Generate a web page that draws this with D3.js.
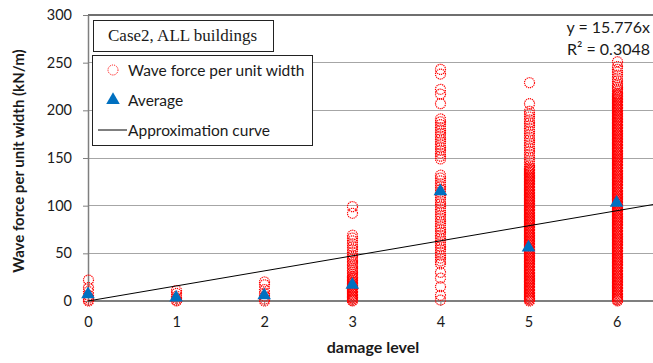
<!DOCTYPE html>
<html>
<head>
<meta charset="utf-8">
<script src="https://cdn.jsdelivr.net/npm/d3@7/dist/d3.min.js"></script>
<style>
  html, body { margin: 0; padding: 0; background: #fff; }
  svg { display: block; }
  text { font-family: Lato, "Open Sans", sans-serif; fill: #1a1a1a; }
</style>
</head>
<body>
<svg id="chart" width="653" height="363"></svg>
<script>
// Damage levels on the x axis
const damageLevels = [0, 1, 2, 3, 4, 5, 6];
const xTicks = [0, 1, 2, 3, 4, 5, 6];
const yTicks = [0, 50, 100, 150, 200, 250, 300];

// Wave force per unit width (kN/m) for each building, grouped by damage level
const forceLevel0 = [22, 14, 10, 6, 3, 1, 0];
const forceLevel1 = [11, 8, 5, 3, 1, 0];
const forceLevel2 = [20, 17, 12, 8, 5, 2, 0];
const forceLevel3 = [99, 92, 69, 66, 63, 60, 57, 54, 51, 48, 46, 44, 42, 40, 38, 36, 34, 32,
  30, 28, 26, 25, 24, 23, 22, 21, 20, 19, 18, 17, 16, 15, 14, 13, 12, 11, 10, 9, 8, 7, 6, 5,
  4, 3, 2, 1, 0];
const forceLevel4 = [243, 238, 222, 217, 207, 191, 188, 185, 182, 179, 176, 173, 170, 167, 164,
  161, 158, 155, 152, 149, 132, 129, 126, 123, 120, 117, 114, 111, 108, 105, 102, 99, 96, 93,
  90, 87, 84, 81, 78, 75, 72, 69, 66, 63, 60, 57, 54, 51, 48, 45, 42, 39, 30, 24, 15, 6, 1];
const forceLevel5 = [229, 207, 199, 196, 193, 190, 187, 184, 181, 178, 175, 172, 169, 166, 163,
  160, 157, 154, 151, 148, 145, 142,
  140, 139, 138, 137, 136, 135, 134, 133, 132, 131, 130, 129, 128, 127, 126, 125, 124, 123,
  122, 121, 120, 119, 118, 117, 116, 115, 114, 113, 112, 111, 110, 109, 108, 107, 106, 105,
  104, 103, 102, 101, 100, 99, 98, 97, 96, 95, 94, 93, 92, 91, 90, 89, 88, 87, 86, 85, 84, 83,
  82, 81, 80, 79, 78, 77, 76, 75, 74, 73, 72, 71, 70, 69, 68, 67, 66, 65, 64, 63, 62, 61, 60,
  59, 58, 57, 56, 55, 54, 53, 52, 51, 50, 49, 48, 47, 46, 45, 44, 43, 42, 41, 40, 39, 38, 37,
  36, 35, 34, 33, 32, 31, 30, 29, 28, 27, 26, 25, 24, 23, 22, 21, 20, 19, 18, 17, 16, 15, 14,
  13, 12, 11, 10, 9, 8, 7, 6, 5, 4, 3, 2, 1, 0];
const forceLevel6 = [251, 246, 243, 240, 237, 234, 231, 228, 226, 224, 222, 220,
  218, 217, 216, 215, 214, 213, 212, 211, 210, 209, 208, 207, 206, 205, 204, 203, 202, 201,
  200, 199, 198, 197, 196, 195, 194, 193, 192, 191, 190, 189, 188, 187, 186, 185, 184, 183,
  182, 181, 180, 179, 178, 177, 176, 175, 174, 173, 172, 171, 170, 169, 168, 167, 166, 165,
  164, 163, 162, 161, 160, 159, 158, 157, 156, 155, 154, 153, 152, 151, 150, 149, 148, 147,
  146, 145, 144, 143, 142, 141, 140, 139, 138, 137, 136, 135, 134, 133, 132, 131, 130, 129,
  128, 127, 126, 125, 124, 123, 122, 121, 120, 119, 118, 117, 116, 115, 114, 113, 112, 111,
  110, 109, 108, 107, 106, 105, 104, 103, 102, 101, 100, 99, 98, 97, 96, 95, 94, 93, 92, 91,
  90, 89, 88, 87, 86, 85, 84, 83, 82, 81, 80, 79, 78, 77, 76, 75, 74, 73, 72, 71, 70, 69, 68,
  67, 66, 65, 64, 63, 62, 61, 60, 59, 58, 57, 56, 55, 54, 53, 52, 51, 50, 49, 48, 47, 46, 45,
  44, 43, 42, 41, 40, 39, 38, 37, 36, 35, 34, 33, 32, 31, 30, 29, 28, 27, 26, 25, 24, 23, 22,
  21, 20, 19, 18, 17, 16, 15, 14, 13, 12, 11, 10, 9, 8, 7, 6, 5, 4, 3, 2, 1, 0];

// Average wave force per damage level
const averageForce = [7, 3.5, 6, 17, 115, 56, 103];

// Linear approximation through the origin
const slope = 15.776;
const rSquared = 0.3048;

const forceByLevel = [forceLevel0, forceLevel1, forceLevel2, forceLevel3,
  forceLevel4, forceLevel5, forceLevel6];

const svg = d3.select("#chart");
const x = d3.scaleLinear().domain([0, 7]).range([88, 704.7]);
const y = d3.scaleLinear().domain([0, 300]).range([301, 15]);

// Horizontal gridlines
svg.append("g")
  .selectAll("line")
  .data(yTicks.filter(v => v > 0))
  .join("line")
  .attr("x1", x(0)).attr("x2", 653)
  .attr("y1", d => y(d)).attr("y2", d => y(d))
  .attr("stroke", d => d === 300 ? "#6f6f6f" : "#a6a6a6")
  .attr("stroke-width", d => d === 300 ? 1.5 : 1)
  .attr("shape-rendering", "crispEdges");

// Y axis
const yAxis = svg.append("g")
  .attr("transform", `translate(${x(0)},0)`)
  .call(d3.axisLeft(y).tickValues(yTicks).tickSize(5).tickPadding(11).tickSizeOuter(0));
yAxis.select(".domain").attr("stroke", "#7f7f7f").attr("stroke-width", 1.5);
yAxis.selectAll(".tick line").attr("stroke", "#7f7f7f");
yAxis.selectAll(".tick text").style("font-size", "14.5px").style("font-family", "Lato, sans-serif");

// X axis
const xAxis = svg.append("g")
  .attr("transform", `translate(0,${y(0)})`)
  .call(d3.axisBottom(x).tickValues(xTicks).tickFormat(d3.format("d"))
    .tickSize(5).tickPadding(11).tickSizeOuter(0));
xAxis.select(".domain").attr("stroke", "#7f7f7f").attr("stroke-width", 2)
  .attr("d", `M${x(0)},0H653`);
xAxis.selectAll(".tick line").attr("stroke", "#7f7f7f");
xAxis.selectAll(".tick text").style("font-size", "14.5px").style("font-family", "Lato, sans-serif");

// Scatter of individual buildings (dotted red rings); neighbouring rings
// shift their dash phase so tightly stacked rings fill in solidly
const points = [];
forceByLevel.forEach((vals, i) => vals.forEach((v, j) =>
  points.push({ level: damageLevels[i], value: v, k: j })));
svg.append("g")
  .selectAll("circle")
  .data(points)
  .join("circle")
  .attr("cx", d => Math.round(x(d.level)) + 0.5)
  .attr("cy", d => y(d.value))
  .attr("r", 5)
  .attr("fill", "none")
  .attr("stroke", "#ff0000")
  .attr("stroke-width", 1.2)
  .attr("stroke-dasharray", "1.2 0.8")
  .attr("stroke-dashoffset", d => (d.k % 3) * 0.67);

// Average markers
const tri = d3.symbol().type(d3.symbolTriangle).size(80);
svg.append("g")
  .selectAll("path")
  .data(averageForce)
  .join("path")
  .attr("d", tri)
  .attr("transform", (d, i) => `translate(${x(damageLevels[i])},${y(d)})`)
  .attr("fill", "#0070c0");

// Approximation line y = slope * x
svg.append("line")
  .attr("x1", x(0)).attr("y1", y(0))
  .attr("x2", x(7)).attr("y2", y(slope * 7))
  .attr("stroke", "#000").attr("stroke-width", 1);

// Equation label
const eq = svg.append("g").style("font-size", "16px");
eq.append("text").attr("x", 650).attr("y", 33).attr("text-anchor", "end").text(`y = ${slope}x`);
eq.append("text").attr("x", 650).attr("y", 55).attr("text-anchor", "end").text(`R² = ${rSquared}`);

// Case title box
svg.append("rect").attr("x", 93.5).attr("y", 20.5).attr("width", 180).attr("height", 31)
  .attr("fill", "#fff").attr("stroke", "#222");
svg.append("text").attr("x", 108).attr("y", 41)
  .style("font-family", "'Liberation Serif', 'Times New Roman', serif").style("font-size", "17px")
  .text("Case2, ALL buildings");

// Legend
const lg = svg.append("g");
lg.append("rect").attr("x", 92.5).attr("y", 55.5).attr("width", 220).attr("height", 90)
  .attr("fill", "#fff").attr("stroke", "#222");
lg.append("circle").attr("cx", 113).attr("cy", 70).attr("r", 5)
  .attr("fill", "none").attr("stroke", "#ff0000").attr("stroke-dasharray", "1 1");
lg.append("path").attr("d", tri).attr("transform", "translate(113,100)").attr("fill", "#0070c0");
lg.append("line").attr("x1", 98).attr("x2", 127).attr("y1", 130).attr("y2", 130).attr("stroke", "#000");
const legendLabels = ["Wave force per unit width", "Average", "Approximation curve"];
lg.selectAll("text.lab").data(legendLabels).join("text")
  .attr("class", "lab")
  .attr("x", 128).attr("y", (d, i) => 75.5 + i * 30)
  .style("font-size", "15.5px")
  .text(d => d);

// Axis titles
svg.append("text")
  .attr("transform", `translate(24,${(y(0) + y(300)) / 2 + 3}) rotate(-90)`)
  .attr("text-anchor", "middle")
  .style("font-size", "15px").style("font-weight", "bold")
  .text("Wave force per unit width (kN/m)");
svg.append("text")
  .attr("x", 373).attr("y", 353)
  .attr("text-anchor", "middle")
  .style("font-size", "16px").style("font-weight", "bold")
  .text("damage level");
</script>
</body>
</html>
